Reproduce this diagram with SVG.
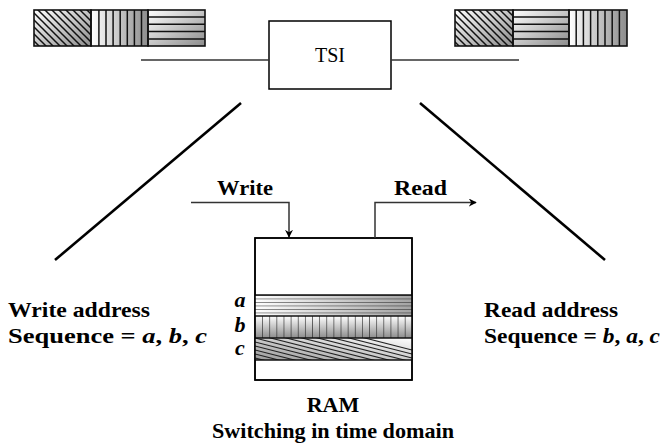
<svg xmlns="http://www.w3.org/2000/svg" width="662" height="445" viewBox="0 0 662 445">
  <style>
    .wire { fill: none; stroke: #333; stroke-width: 1.5; }
    .arm { fill: none; stroke: #000; stroke-width: 2.6; }
    .box { fill: #fff; stroke: #000; stroke-width: 1.5; }
    .cell { fill: none; stroke: #111; stroke-width: 1.6; }
    .lbl { font-family: "Liberation Serif", "Times New Roman", serif; font-weight: bold; font-size: 22px; fill: #000; }
    .it { font-style: italic; }
    .tsi { font-family: "Liberation Serif", "Times New Roman", serif; font-size: 20px; fill: #000; }
  </style>
  <defs>
    <!-- shading under the hatching -->
    <linearGradient id="shadeH" x1="0" y1="0" x2="1" y2="0">
      <stop offset="0" stop-color="#ffffff"/>
      <stop offset="1" stop-color="#8c8c8c"/>
    </linearGradient>
    <linearGradient id="shadeV" x1="0" y1="0" x2="0" y2="1">
      <stop offset="0" stop-color="#ffffff"/>
      <stop offset="1" stop-color="#8c8c8c"/>
    </linearGradient>
    <linearGradient id="shadeD" x1="0" y1="0" x2="1" y2="1">
      <stop offset="0" stop-color="#ffffff"/>
      <stop offset="1" stop-color="#8c8c8c"/>
    </linearGradient>
    <linearGradient id="shadeD2" x1="1" y1="0" x2="0" y2="1">
      <stop offset="0" stop-color="#ffffff"/>
      <stop offset="1" stop-color="#999999"/>
    </linearGradient>
    <!-- hatch patterns -->
    <pattern id="diag" patternUnits="userSpaceOnUse" width="7" height="7">
      <path d="M-1,-1 L8,8 M-1,6 L1,8 M6,-1 L8,1" stroke="#111" stroke-width="1.5"/>
    </pattern>
    <pattern id="vertRam" patternUnits="userSpaceOnUse" x="255" y="0" width="7.13" height="10">
      <line x1="0" y1="0" x2="0" y2="10" stroke="#222" stroke-width="1.2"/>
    </pattern>
    <pattern id="horzRam" patternUnits="userSpaceOnUse" x="0" y="295" width="10" height="3.5">
      <line x1="0" y1="0" x2="10" y2="0" stroke="#222" stroke-width="1"/>
    </pattern>
    <marker id="head" viewBox="0 0 10 10" refX="9" refY="5" markerWidth="8" markerHeight="8" markerUnits="userSpaceOnUse" orient="auto">
      <path d="M0,0 L10,5 L0,10 L3,5 Z" fill="#000"/>
    </marker>
  </defs>

  <!-- incoming frame: slots a, b, c -->
  <g id="frame-in">
    <rect x="34" y="10" width="57" height="36" fill="url(#shadeD)"/>
    <rect x="34" y="10" width="57" height="36" fill="url(#diag)"/>
    <rect x="91" y="10" width="57" height="36" fill="url(#shadeH)"/>
    <g stroke="#111" stroke-width="1.5">
      <line x1="98.9" y1="10" x2="98.9" y2="46"/><line x1="106" y1="10" x2="106" y2="46"/>
      <line x1="113.1" y1="10" x2="113.1" y2="46"/><line x1="120.2" y1="10" x2="120.2" y2="46"/>
      <line x1="127.3" y1="10" x2="127.3" y2="46"/><line x1="134.4" y1="10" x2="134.4" y2="46"/>
      <line x1="141.5" y1="10" x2="141.5" y2="46"/>
    </g>
    <rect x="148" y="10" width="57" height="36" fill="url(#shadeD)"/>
    <g stroke="#111" stroke-width="1.5">
      <line x1="148" y1="17" x2="205" y2="17"/><line x1="148" y1="24.3" x2="205" y2="24.3"/>
      <line x1="148" y1="31.6" x2="205" y2="31.6"/><line x1="148" y1="38.9" x2="205" y2="38.9"/>
    </g>
    <rect x="34" y="10" width="57" height="36" class="cell"/>
    <rect x="91" y="10" width="57" height="36" class="cell"/>
    <rect x="148" y="10" width="57" height="36" class="cell"/>
  </g>

  <!-- outgoing frame: slots b, a, c -->
  <g id="frame-out">
    <rect x="455" y="10" width="58" height="36" fill="url(#shadeD)"/>
    <rect x="455" y="10" width="58" height="36" fill="url(#diag)"/>
    <rect x="513" y="10" width="56" height="36" fill="url(#shadeD)"/>
    <g stroke="#111" stroke-width="1.5">
      <line x1="513" y1="17" x2="569" y2="17"/><line x1="513" y1="24.3" x2="569" y2="24.3"/>
      <line x1="513" y1="31.6" x2="569" y2="31.6"/><line x1="513" y1="38.9" x2="569" y2="38.9"/>
    </g>
    <rect x="569" y="10" width="58" height="36" fill="url(#shadeH)"/>
    <g stroke="#111" stroke-width="1.5">
      <line x1="576.2" y1="10" x2="576.2" y2="46"/><line x1="583.4" y1="10" x2="583.4" y2="46"/>
      <line x1="590.6" y1="10" x2="590.6" y2="46"/><line x1="597.8" y1="10" x2="597.8" y2="46"/>
      <line x1="605" y1="10" x2="605" y2="46"/><line x1="612.2" y1="10" x2="612.2" y2="46"/>
      <line x1="619.4" y1="10" x2="619.4" y2="46"/>
    </g>
    <rect x="455" y="10" width="58" height="36" class="cell"/>
    <rect x="513" y="10" width="56" height="36" class="cell"/>
    <rect x="569" y="10" width="58" height="36" class="cell"/>
  </g>

  <!-- time slot interchanger -->
  <g id="tsi">
    <rect x="269" y="21" width="122" height="68" class="box"/>
    <text x="330" y="62" text-anchor="middle" class="tsi">TSI</text>
  </g>

  <!-- RAM with three stored slots -->
  <g id="ram">
    <rect x="255" y="238" width="157" height="142" class="box"/>
    <rect x="255" y="295" width="157" height="21" fill="url(#shadeH)" opacity="0.8"/>
    <rect x="255" y="295" width="157" height="21" fill="url(#horzRam)"/>
    <rect x="255" y="316" width="157" height="22" fill="url(#shadeV)"/>
    <rect x="255" y="316" width="157" height="22" fill="url(#vertRam)"/>
    <rect x="255" y="338" width="157" height="22" fill="url(#shadeD2)"/>
    <svg x="255" y="338" width="157" height="22" viewBox="255 338 157 22" overflow="hidden">
      <g stroke="#222" stroke-width="1.1">
        <line x1="255" y1="310" x2="412" y2="350"/><line x1="255" y1="314" x2="412" y2="354"/>
        <line x1="255" y1="318" x2="412" y2="358"/><line x1="255" y1="322" x2="412" y2="362"/>
        <line x1="255" y1="326" x2="412" y2="366"/><line x1="255" y1="330" x2="412" y2="370"/>
        <line x1="255" y1="334" x2="412" y2="374"/><line x1="255" y1="338" x2="412" y2="378"/>
        <line x1="255" y1="342" x2="412" y2="382"/><line x1="255" y1="346" x2="412" y2="386"/>
        <line x1="255" y1="350" x2="412" y2="390"/><line x1="255" y1="354" x2="412" y2="394"/>
        <line x1="255" y1="358" x2="412" y2="398"/>
      </g>
    </svg>
    <g fill="none" stroke="#111" stroke-width="1.3">
      <line x1="255" y1="295" x2="412" y2="295"/>
      <line x1="255" y1="316" x2="412" y2="316"/>
      <line x1="255" y1="338" x2="412" y2="338"/>
      <line x1="255" y1="360" x2="412" y2="360"/>
    </g>
    <rect x="255" y="238" width="157" height="142" fill="none" stroke="#000" stroke-width="1.5"/>
    <text x="240" y="307" text-anchor="middle" class="lbl it">a</text>
    <text x="240" y="332" text-anchor="middle" class="lbl it">b</text>
    <text x="240" y="355" text-anchor="middle" class="lbl it">c</text>
    <text x="333" y="412" text-anchor="middle" class="lbl">RAM</text>
  </g>

  <!-- connectors -->
  <g id="connectors">
    <line x1="141" y1="60" x2="269" y2="60" class="wire"/>
    <line x1="391" y1="60" x2="519" y2="60" class="wire"/>
    <line x1="241" y1="103" x2="55" y2="260" class="arm"/>
    <line x1="420" y1="103" x2="605" y2="260" class="arm"/>
    <polyline points="191,202.5 289,202.5 289,237" class="wire" marker-end="url(#head)"/>
    <polyline points="375,238 375,202.5 476,202.5" class="wire" marker-end="url(#head)"/>
  </g>

  <!-- labels -->
  <g id="labels">
    <text x="217" y="195" class="lbl" textLength="56" lengthAdjust="spacingAndGlyphs">Write</text>
    <text x="394" y="195" class="lbl" textLength="53" lengthAdjust="spacingAndGlyphs">Read</text>
    <text x="8" y="317" class="lbl" textLength="142" lengthAdjust="spacingAndGlyphs">Write address</text>
    <text x="8" y="343" class="lbl" textLength="199" lengthAdjust="spacingAndGlyphs">Sequence = <tspan class="it">a</tspan>, <tspan class="it">b</tspan>, <tspan class="it">c</tspan></text>
    <text x="484" y="317" class="lbl" textLength="134" lengthAdjust="spacingAndGlyphs">Read address</text>
    <text x="484" y="343" class="lbl" textLength="176" lengthAdjust="spacingAndGlyphs">Sequence = <tspan class="it">b</tspan>, <tspan class="it">a</tspan>, <tspan class="it">c</tspan></text>
    <text x="333" y="438" text-anchor="middle" class="lbl" textLength="242" lengthAdjust="spacingAndGlyphs">Switching in time domain</text>
  </g>
</svg>
